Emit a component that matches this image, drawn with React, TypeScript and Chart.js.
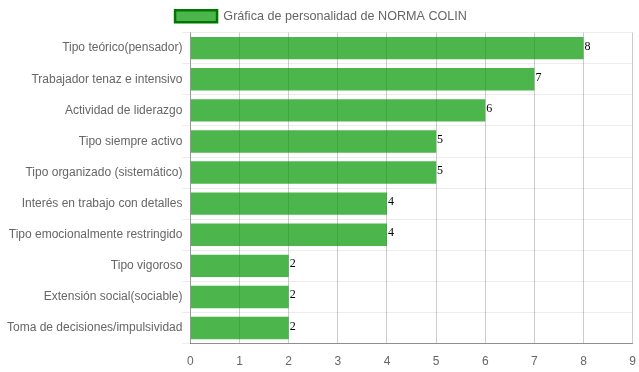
import React, { useEffect, useRef } from "react";
import { Chart, registerables } from "chart.js";

Chart.register(...registerables);

const categories = [
  "Tipo teórico(pensador)",
  "Trabajador tenaz e intensivo",
  "Actividad de liderazgo",
  "Tipo siempre activo",
  "Tipo organizado (sistemático)",
  "Interés en trabajo con detalles",
  "Tipo emocionalmente restringido",
  "Tipo vigoroso",
  "Extensión social(sociable)",
  "Toma de decisiones/impulsividad",
];
const values = [8, 7, 6, 5, 5, 4, 4, 2, 2, 2];
const seriesLabel = "Gráfica de personalidad de NORMA COLIN";
const xMin = 0;
const xMax = 9;

const valueLabels = {
  id: "valueLabels",
  afterDatasetsDraw(chart: any) {
    const ctx = chart.ctx;
    const meta = chart.getDatasetMeta(0);
    ctx.save();
    ctx.font = "12px 'Liberation Serif', 'Times New Roman', serif";
    ctx.fillStyle = "#000";
    ctx.textAlign = "left";
    ctx.textBaseline = "alphabetic";
    meta.data.forEach((bar: any, i: number) => {
      const v = chart.data.datasets[0].data[i];
      ctx.fillText(String(v), bar.x + 1, bar.y + 1.5);
    });
    ctx.restore();
  },
};

export default function App() {
  const ref = useRef<HTMLCanvasElement | null>(null);
  useEffect(() => {
    if (!ref.current) return;
    const font = { family: "'Liberation Sans', Arial, Helvetica, sans-serif", size: 12 };
    const chart = new Chart(ref.current, {
      type: "bar",
      data: {
        labels: categories,
        datasets: [
          {
            label: seriesLabel,
            data: values,
            backgroundColor: "rgba(0,150,0,0.7)",
            borderColor: "rgb(0,120,0)",
            borderWidth: 0,
          },
        ],
      },
      options: {
        indexAxis: "y",
        animation: false,
        responsive: true,
        maintainAspectRatio: false,
        layout: { padding: { left: 7, right: 4, top: 0, bottom: 0 } },
        plugins: {
          tooltip: { enabled: false },
          legend: {
            position: "top",
            labels: {
              color: "#666",
              font: { ...font, size: 12.6 },
              boxWidth: 42,
              boxHeight: 12,
              padding: 10,
              generateLabels: () => [
                {
                  text: seriesLabel,
                  fillStyle: "rgba(0,150,0,0.7)",
                  strokeStyle: "rgb(0,120,0)",
                  lineWidth: 2.5,
                  hidden: false,
                  datasetIndex: 0,
                  fontColor: "#666",
                },
              ],
            },
          },
        },
        scales: {
          x: {
            min: xMin,
            max: xMax,
            ticks: { stepSize: 1, color: "#666", font },
            grid: { color: "rgba(0,0,0,0.2)", tickLength: 8, tickColor: "rgba(0,0,0,0)" },
            border: { color: "rgba(0,0,0,0.4)" },
          },
          y: {
            ticks: { color: "#666", font, padding: 0 },
            grid: { color: "rgba(0,0,0,0.07)", tickLength: 8 },
            border: { color: "rgba(0,0,0,0.25)" },
          },
        },
      },
      plugins: [valueLabels],
    } as any);
    return () => chart.destroy();
  }, []);
  return (
    <div style={{ position: "fixed", left: 0, top: 0, width: 639, height: 372 }}>
      <canvas ref={ref} />
    </div>
  );
}
